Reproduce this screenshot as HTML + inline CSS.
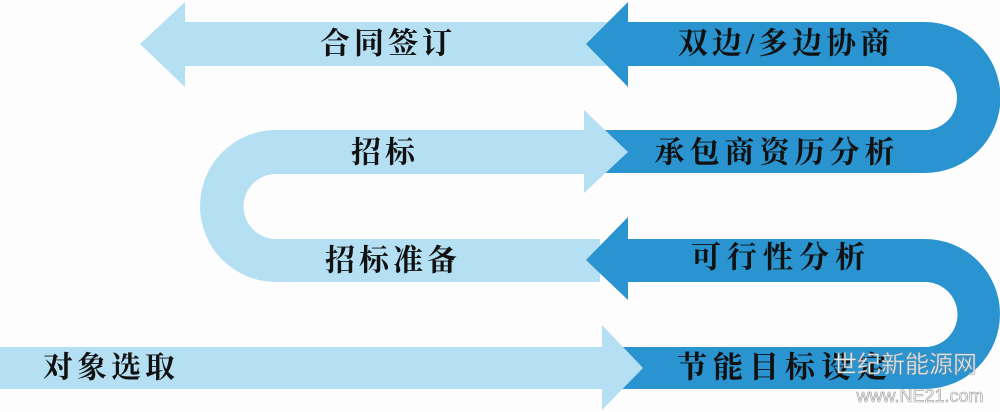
<!DOCTYPE html>
<html><head><meta charset="utf-8"><style>
html,body{margin:0;padding:0;background:#fdfdfd;}
svg{display:block}
text{font-family:"Liberation Serif","Noto Serif CJK SC",serif;font-weight:bold;font-size:30px;fill:#111;dominant-baseline:central;}
</style></head><body>
<svg width="1000" height="412" viewBox="0 0 1000 412" xmlns="http://www.w3.org/2000/svg">
<g fill="#b5dff3">
<rect x="185" y="22" width="440" height="44"/>
<polygon points="140,44 185,2 185,87"/>
<path d="M600 130 L276 130 A76 76 0 0 0 276 282 L600 282 L600 239 L276 239 A32.5 32.5 0 0 1 276 174 L600 174 Z"/>
<rect x="0" y="347" width="605" height="42"/>
</g>
<g fill="#2a94d1">
<path d="M620 22 L925 22 A75.5 75.5 0 0 1 925 173 L590 173 L590 130 L925 130 A32 32 0 0 0 925 66 L620 66 Z"/>
<polygon points="586,44 628,2 628,87"/>
<path d="M620 239 L925 239 A75 75 0 0 1 925 389 L606 389 L606 347 L925 347 A32.5 32.5 0 0 0 925 282 L620 282 Z"/>
<polygon points="586,260 628,217 628,300"/>
</g>
<g fill="#b5dff3">
<polygon points="584,110 628,152 584,193"/>
<polygon points="602,325 643,368 602,410"/>
</g>
<text x="388" y="44" text-anchor="middle" letter-spacing="4">合同签订</text>
<text x="786" y="44" text-anchor="middle" letter-spacing="4">双边/多边协商</text>
<text x="385" y="153" text-anchor="middle" letter-spacing="4">招标</text>
<text x="777" y="153" text-anchor="middle" letter-spacing="5">承包商资历分析</text>
<text x="393" y="261" text-anchor="middle" letter-spacing="4">招标准备</text>
<text x="781" y="258" text-anchor="middle" letter-spacing="6">可行性分析</text>
<text x="111" y="368" text-anchor="middle" letter-spacing="4">对象选取</text>
<text x="785" y="368" text-anchor="middle" letter-spacing="6">节能目标设定</text>
<text x="905" y="365" text-anchor="middle" style="font-family:'Liberation Sans','Noto Sans CJK SC',sans-serif;font-weight:normal;font-size:24px;fill:#ffffff;opacity:0.85;stroke:#999;stroke-width:0.6">世纪新能源网</text>
<text x="920" y="396" text-anchor="middle" style="font-family:'Liberation Sans',sans-serif;font-weight:normal;font-size:18px;fill:#ffffff;stroke:#999;stroke-width:0.6">www.NE21.com</text>
</svg>
</body></html>
